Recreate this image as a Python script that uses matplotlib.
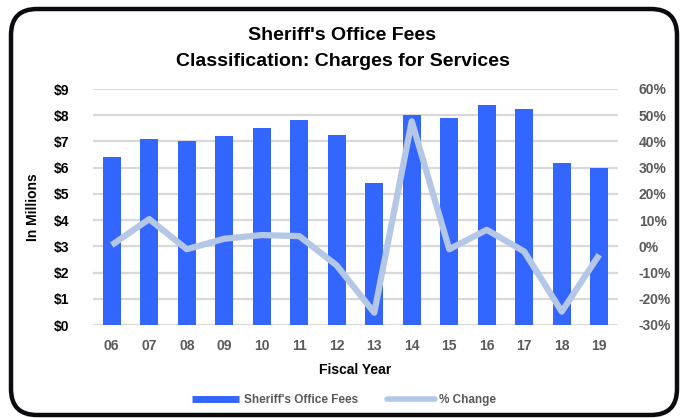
import matplotlib
matplotlib.use("Agg")
import matplotlib.pyplot as plt
from matplotlib.patches import FancyBboxPatch
from matplotlib.lines import Line2D
from matplotlib.ticker import FuncFormatter
import numpy as np

plt.rcParams['font.family'] = ['Liberation Sans', 'DejaVu Sans']
plt.rcParams['font.weight'] = 'bold'
plt.rcParams['axes.labelweight'] = 'bold'

years = ["06", "07", "08", "09", "10", "11", "12", "13", "14", "15", "16", "17", "18", "19"]
fees = [6.42, 7.09, 7.01, 7.21, 7.52, 7.81, 7.24, 5.41, 7.99, 7.90, 8.40, 8.23, 6.18, 5.98]
pct_change = [0.5, 10.4, -1.1, 2.9, 4.3, 3.9, -7.3, -25.3, 47.7, -1.1, 6.3, -2.0, -24.9, -3.2]

bar_color = "#3366ff"
line_color = "#b4c7e7"
grid_color = "#d9d9d9"
tick_gray = "#595959"


def draw_frame(fig):
    # rounded black border round the whole chart
    frame = FancyBboxPatch((0.11, 0.03), 6.66, 4.06,
                           boxstyle="round,pad=0,rounding_size=0.26",
                           transform=fig.dpi_scale_trans, facecolor="none",
                           edgecolor="#0a0a0f", linewidth=3.2, zorder=10)
    fig.patches.append(frame)


def main():
    fig = plt.figure(figsize=(6.85, 4.18), dpi=100)
    ax = fig.add_axes([93 / 685, 1 - 325 / 418, 525 / 685, 236 / 418])
    x = np.arange(len(years))

    ax.bar(x, fees, width=0.48, color=bar_color, zorder=3)
    ax.set_ylim(0, 9)
    ax.set_xlim(-0.5, len(years) - 0.5)
    ax.set_yticks(range(0, 10))
    ax.yaxis.set_major_formatter(FuncFormatter(lambda v, p: "$%d" % v))
    ax.grid(axis="y", color=grid_color, linewidth=1.6, zorder=0)
    ax.set_xticks(x)
    ax.set_xticklabels(years)
    for s in ax.spines.values():
        s.set_visible(False)
    ax.tick_params(axis="y", length=0, pad=17, labelsize=10, labelcolor="black")
    ax.tick_params(axis="x", length=0, pad=10, labelsize=10, labelcolor=tick_gray)
    ax.set_ylabel("In Millions", fontsize=10, labelpad=10)
    ax.set_xlabel("Fiscal Year", fontsize=10, labelpad=7)

    ax2 = ax.twinx()
    ax2.plot(x, pct_change, color=line_color, linewidth=4.5, zorder=4,
             solid_joinstyle="round", solid_capstyle="butt")
    ax2.set_ylim(-30, 60)
    ax2.set_yticks(range(-30, 61, 10))
    ax2.yaxis.set_major_formatter(FuncFormatter(lambda v, p: "%d%%" % v))
    for s in ax2.spines.values():
        s.set_visible(False)
    ax2.tick_params(axis="y", length=0, pad=15, labelsize=10, labelcolor=tick_gray)

    fig.text(0.5, 1 - 35 / 418, "Sheriff's Office Fees", ha="center", va="center",
             fontsize=14)
    fig.text(0.5, 1 - 61 / 418, "Classification: Charges for Services", ha="center",
             va="center", fontsize=14)

    handles = [Line2D([], [], color=bar_color, linewidth=5, solid_capstyle="butt"),
               Line2D([], [], color=line_color, linewidth=4, solid_capstyle="round")]
    leg = fig.legend(handles, ["Sheriff's Office Fees", "% Change"], ncol=2,
                     loc="center", bbox_to_anchor=(344 / 685, 1 - 400 / 418),
                     frameon=False, fontsize=8.5, handlelength=4.0,
                     columnspacing=2.5, handletextpad=0.4)
    for t in leg.get_texts():
        t.set_color(tick_gray)

    draw_frame(fig)
    fig.savefig("out.png", dpi=100)


if __name__ == "__main__":
    main()
